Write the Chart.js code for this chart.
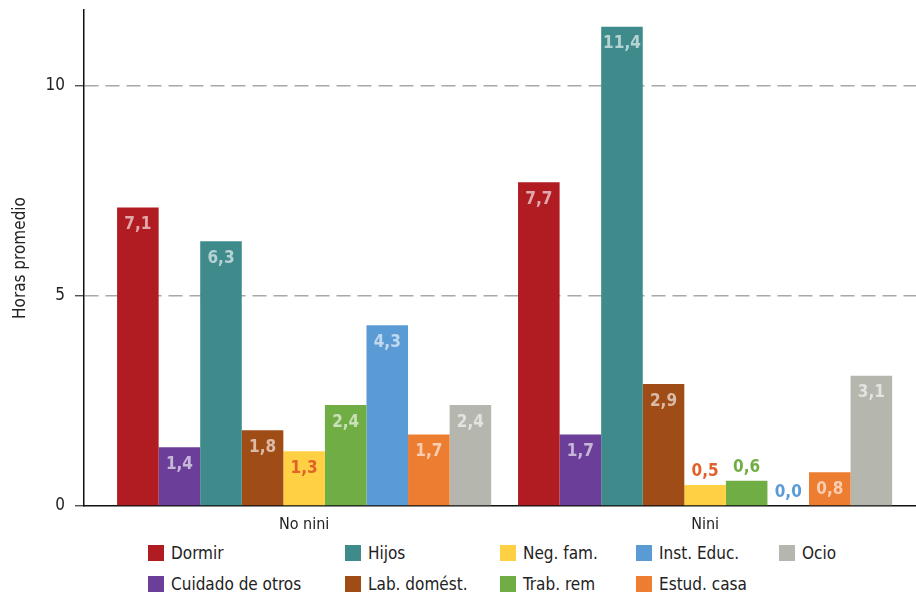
<!DOCTYPE html>
<html>
<head>
<meta charset="utf-8">
<script src="https://cdn.jsdelivr.net/npm/chart.js@4.4.1/dist/chart.umd.min.js"></script>
<style>
  html, body { margin: 0; padding: 0; background: #fff; }
  #wrap { position: relative; width: 916px; height: 596px; }
  #chartBox { position: absolute; left: 0; top: 0; width: 916px; height: 540px; }
  .leg { position: absolute; display: flex; align-items: center; height: 20px;
         font-family: "DejaVu Sans Condensed", "Liberation Sans Narrow", sans-serif;
         font-size: 17px; color: #222; white-space: nowrap; }
  .leg span.box { display: inline-block; width: 16px; height: 16px; margin-right: 7px; }
</style>
</head>
<body>
<div id="wrap">
  <div id="chartBox"><canvas id="timeChart" width="916" height="540"></canvas></div>
  <div id="legend"></div>
</div>
<script>
// data
const groups = ["No nini", "Nini"]
const seriesNames = ["Dormir", "Cuidado de otros", "Hijos", "Lab. domést.", "Neg. fam.", "Trab. rem", "Inst. Educ.", "Estud. casa", "Ocio"]
const noNiniHours = [7.1, 1.4, 6.3, 1.8, 1.3, 2.4, 4.3, 1.7, 2.4]
const niniHours = [7.7, 1.7, 11.4, 2.9, 0.5, 0.6, 0.0, 0.8, 3.1]
const yTicks = [0, 5, 10]

const colors = ["#B01C22", "#6B3F99", "#3F8B8C", "#A04C16", "#FFD043", "#71AD45", "#5B9BD5", "#ED7D31", "#B5B6AD"]
const FONT = "'DejaVu Sans Condensed', 'Liberation Sans Narrow', sans-serif"

document.addEventListener("DOMContentLoaded", () => {
  // value labels: inside the bar top when tall enough, above it otherwise
  const valueLabels = {
    id: "valueLabels",
    afterDatasetsDraw(chart) {
      const ctx = chart.ctx
      ctx.save()
      ctx.font = "bold 17px " + FONT
      ctx.textAlign = "center"
      ctx.textBaseline = "middle"
      chart.data.datasets.forEach((ds, i) => {
        chart.getDatasetMeta(i).data.forEach((bar, j) => {
          const v = ds.data[j].y
          const text = v.toFixed(1).replace(".", ",")
          const isYellow = i === 4
          if (v >= 0.75) {
            ctx.fillStyle = isYellow ? "#E0622A" : "rgba(255,255,255,0.62)"
            ctx.fillText(text, bar.x, bar.y + 17)
          } else {
            ctx.fillStyle = isYellow ? "#E0622A" : colors[i]
            ctx.fillText(text, bar.x, bar.y - 13)
          }
        })
      })
      ctx.restore()
    },
  }

  const datasets = seriesNames.map((name, i) => ({
    label: name,
    data: [
      { x: 0, y: noNiniHours[i] },
      { x: 1, y: niniHours[i] },
    ],
    backgroundColor: colors[i],
    borderWidth: 0,
    categoryPercentage: 0.933,
    barPercentage: 1,
  }))

  const ctx = document.getElementById("timeChart").getContext("2d")
  new Chart(ctx, {
    type: "bar",
    data: { datasets },
    plugins: [valueLabels],
    options: {
      responsive: false,
      animation: false,
      layout: { padding: { top: 10, right: 0, left: 0, bottom: 0 } },
      plugins: {
        legend: { display: false },
        tooltip: { enabled: false },
      },
      scales: {
        x: {
          type: "linear",
          offset: false,
          min: -0.549,
          max: 1.526,
          afterBuildTicks: (scale) => {
            scale.ticks = groups.map((g, i) => ({ value: i }))
          },
          afterFit: (scale) => {
            scale.height = 34
            scale.paddingLeft = 0
            scale.paddingRight = 0
          },
          ticks: {
            callback: (v) => groups[v],
            font: { family: FONT, size: 16 },
            color: "#222",
            padding: 9,
            maxRotation: 0,
          },
          grid: { display: false, drawTicks: false, offset: false },
          border: { color: "#111", width: 1.5 },
        },
        y: {
          min: 0,
          max: 11.8,
          afterBuildTicks: (scale) => {
            scale.ticks = yTicks.map((v) => ({ value: v }))
          },
          afterFit: (scale) => {
            scale.width = 84
            scale.paddingTop = 0
            scale.paddingBottom = 0
          },
          ticks: {
            font: { family: FONT, size: 17 },
            color: "#222",
            padding: 10,
          },
          grid: {
            color: (c) => (c.tick && c.tick.value === 0 ? "rgba(0,0,0,0)" : "#a8a8a8"),
            lineWidth: 1.5,
            tickColor: "#333",
            tickLength: 9,
            tickWidth: 1.2,
          },
          border: { color: "#111", width: 1.5, dash: [14, 7] },
          title: {
            display: true,
            text: "Horas promedio",
            font: { family: FONT, size: 17 },
            color: "#222",
            padding: { top: 10, bottom: 0 },
          },
        },
      },
    },
  })

  // legend laid out in columns, two rows
  const colX = [148, 345, 500, 636, 779]
  const rowY = [543, 574]
  const legend = document.getElementById("legend")
  seriesNames.forEach((name, i) => {
    const item = document.createElement("div")
    item.className = "leg"
    item.style.left = colX[Math.floor(i / 2)] + "px"
    item.style.top = rowY[i % 2] + "px"
    item.innerHTML = '<span class="box" style="background:' + colors[i] + '"></span>' + name
    legend.appendChild(item)
  })
})
</script>
</body>
</html>
